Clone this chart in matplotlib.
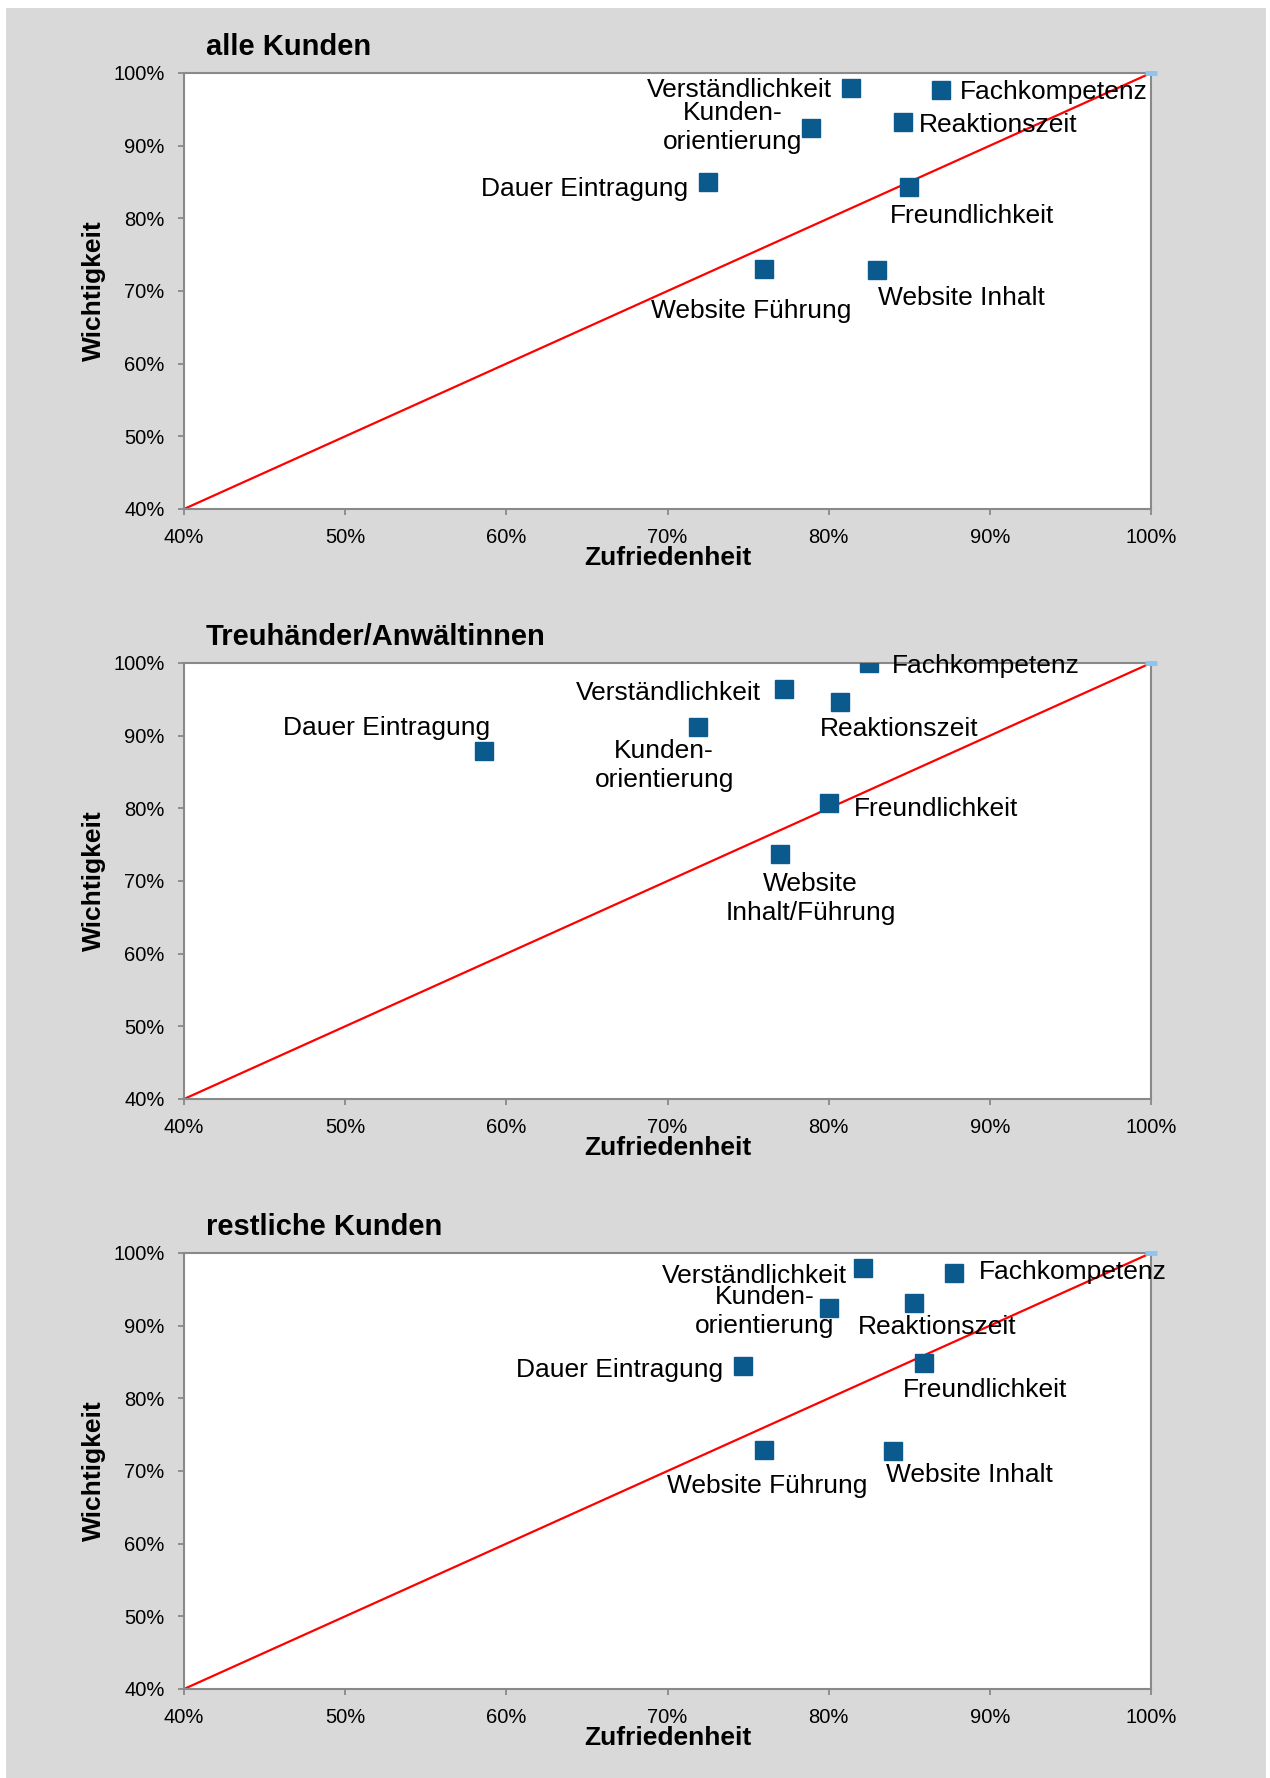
import matplotlib.pyplot as plt
from matplotlib.patches import Rectangle
from matplotlib.ticker import FuncFormatter

plt.rcParams['font.family'] = ['Liberation Sans', 'DejaVu Sans']

# Zufriedenheit (x) und Wichtigkeit (y) in Prozent
alle_labels = ['Verständlichkeit', 'Fachkompetenz', 'Kunden-\norientierung', 'Reaktionszeit',
               'Dauer Eintragung', 'Freundlichkeit', 'Website Führung', 'Website Inhalt']
alle_zufriedenheit = [81.4, 87.0, 78.9, 84.6, 72.5, 85.0, 76.0, 83.0]
alle_wichtigkeit = [97.9, 97.6, 92.4, 93.3, 85.0, 84.3, 73.0, 72.9]

treu_labels = ['Fachkompetenz', 'Verständlichkeit', 'Reaktionszeit', 'Dauer Eintragung',
               'Kunden-\norientierung', 'Freundlichkeit', 'Website\nInhalt/Führung']
treu_zufriedenheit = [82.5, 77.2, 80.7, 58.6, 71.9, 80.0, 77.0]
treu_wichtigkeit = [100.0, 96.4, 94.6, 87.9, 91.2, 80.7, 73.7]

rest_labels = ['Verständlichkeit', 'Fachkompetenz', 'Kunden-\norientierung', 'Reaktionszeit',
               'Dauer Eintragung', 'Freundlichkeit', 'Website Führung', 'Website Inhalt']
rest_zufriedenheit = [82.1, 87.8, 80.05, 85.3, 74.7, 85.9, 76.0, 84.0]
rest_wichtigkeit = [98.0, 97.2, 92.5, 93.1, 84.4, 84.8, 72.9, 72.7]

diag = [40, 100]
ticks = [40, 50, 60, 70, 80, 90, 100]

# label placement: (dx px, dy px down to last baseline, ha)
alle_pos = [(-19, 9, 'right'), (18, 9, 'left'), (-78, 21, 'center'), (16, 10, 'left'),
            (-20, 14, 'right'), (63, 36, 'center'), (-13, 49, 'center'), (84, 35, 'center')]
treu_pos = [(23, 10, 'left'), (-23, 11, 'right'), (59, 34, 'center'), (6, -16, 'right'),
            (-34, 60, 'center'), (25, 13, 'left'), (30, 66, 'center')]
rest_pos = [(-15, 15, 'right'), (24, 6, 'left'), (-65, 26, 'center'), (23, 31, 'center'),
            (-20, 11, 'right'), (61, 34, 'center'), (3, 43, 'center'), (76, 31, 'center')]

W, H = 1270, 1778
fig = plt.figure(figsize=(W / 100, H / 100), dpi=100)
fig.patch.set_facecolor('white')
fig.add_artist(Rectangle((6 / W, 0), 1260 / W, (H - 8) / H, transform=fig.transFigure,
                         facecolor='#d9d9d9', edgecolor='none', zorder=-10))

PT = 0.72  # px -> pt at 100 dpi
blue = '#0b5a8e'
gray = '#898989'

panels = [
    ('alle Kunden', alle_labels, alle_zufriedenheit, alle_wichtigkeit, alle_pos, 509),
    ('Treuhänder/Anwältinnen', treu_labels, treu_zufriedenheit, treu_wichtigkeit, treu_pos, 1099),
    ('restliche Kunden', rest_labels, rest_zufriedenheit, rest_wichtigkeit, rest_pos, 1689),
]

for title, labels, xs, ys, pos, bottom_px in panels:
    ax = fig.add_axes([184 / W, 1 - bottom_px / H, 967 / W, 436 / H])
    ax.set_facecolor('white')
    ax.set_xlim(40, 100)
    ax.set_ylim(40, 100)

    ax.plot(diag, diag, color='#ff0000', lw=1.6, zorder=2)
    ax.plot([diag[1]], [diag[1]], marker='_', ms=8, mew=3.5, color='#8cc6f0',
            clip_on=False, zorder=4)
    ax.plot(xs, ys, ls='none', marker='s', ms=13, color=blue, mec=blue, zorder=3)

    for lab, x, y, (dx, dy, ha) in zip(labels, xs, ys, pos):
        ax.annotate(lab, (x, y), xytext=(dx * PT, -dy * PT), textcoords='offset points',
                    ha=ha, va='baseline', multialignment='center', fontsize=19,
                    linespacing=1.28, color='black', zorder=5, annotation_clip=False)

    for s in ax.spines.values():
        s.set_color(gray)
        s.set_linewidth(1.5)
    ax.set_xticks(ticks)
    ax.set_yticks(ticks)
    fmt = FuncFormatter(lambda v, p: f'{v:.0f}%')
    ax.xaxis.set_major_formatter(fmt)
    ax.yaxis.set_major_formatter(fmt)
    ax.tick_params(direction='out', length=4, width=1.3, color=gray, labelsize=14.5,
                   pad=10, labelcolor='black')

    ax.annotate(title, (0, 1), xycoords='axes fraction', xytext=(22 * PT, 18 * PT),
                textcoords='offset points', ha='left', va='baseline',
                fontsize=21, fontweight='bold')
    ax.annotate('Zufriedenheit', (0.5, 0), xycoords='axes fraction', xytext=(0, -56 * PT),
                textcoords='offset points', ha='center', va='baseline',
                fontsize=19, fontweight='bold')
    ax.annotate('Wichtigkeit', (0, 0.5), xycoords='axes fraction', xytext=(-83 * PT, 0),
                textcoords='offset points', ha='center', va='baseline', rotation=90,
                rotation_mode='anchor', fontsize=19, fontweight='bold')

fig.savefig('out.png', dpi=100)
